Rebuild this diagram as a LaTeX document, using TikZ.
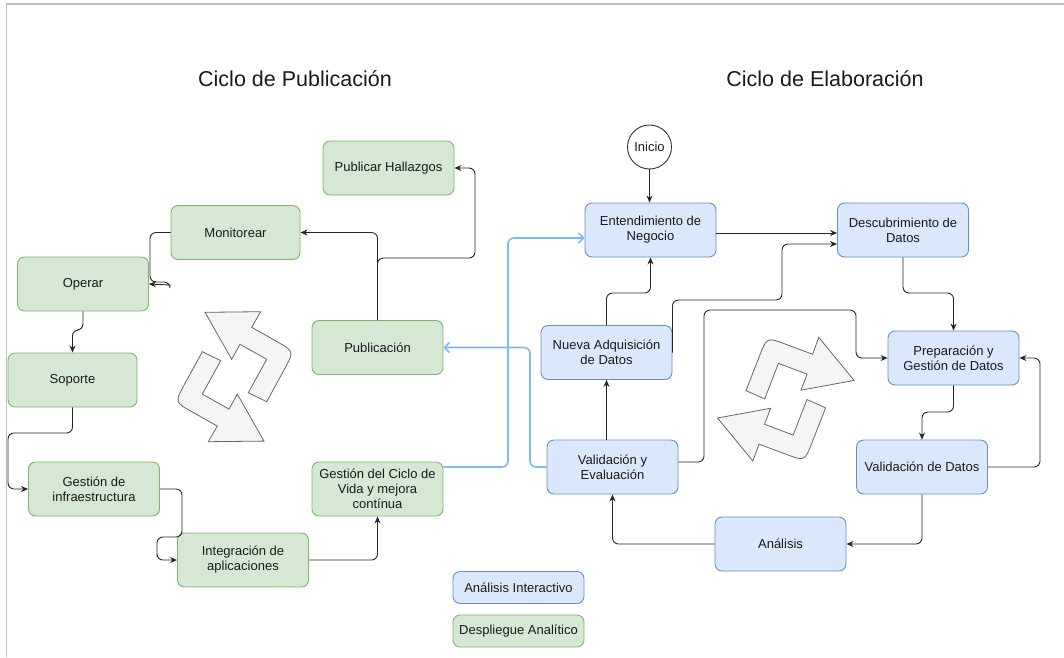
\documentclass[tikz,border=0pt]{standalone}
\usepackage{fontspec}
\setmainfont{Liberation Sans}
\usetikzlibrary{arrows.meta}
\definecolor{gfill}{HTML}{D5E8D4}
\definecolor{gdraw}{HTML}{82B366}
\definecolor{bfill}{HTML}{DAE8FC}
\definecolor{bdraw}{HTML}{6C8EBF}
\definecolor{afill}{HTML}{F5F5F5}
\definecolor{adraw}{HTML}{666666}
\definecolor{lblue}{HTML}{7EB8F7}
\definecolor{txt}{HTML}{1A1A1A}
\definecolor{framec}{HTML}{BDBDBD}
\newcommand\mybentarrow{%
  \draw[garrow] (-29.5,-64.4) -- (26.2,-65) -- (17.2,-49.4) -- (42.3,-35.2)
    .. controls (59.7,-25.4) .. (50.1,-7.8) -- (32.2,25) -- (13.8,16)
    -- (32.2,-17.4) -- (5.5,-32.4) -- (-2.8,-17.4) -- cycle;}
\tikzset{
  box/.style={rectangle, rounded corners=7pt, line width=0.9pt,
    minimum width=131pt, minimum height=54pt, inner sep=2pt, align=center,
    font=\fontsize{13}{15}\selectfont, text=txt},
  gbox/.style={box, fill=gfill, draw=gdraw},
  bbox/.style={box, fill=bfill, draw=bdraw},
  legbox/.style={minimum height=32pt},
  conn/.style={draw=black!85, line width=0.9pt, rounded corners=6pt,
    -{Stealth[length=7pt,width=6pt]}},
  bconn/.style={draw=lblue, line width=1.6pt, rounded corners=6pt,
    -{Straight Barb[length=5pt,width=10pt]}},
  garrow/.style={fill=afill, draw=adraw, line width=0.8pt, line join=miter},
  title/.style={font=\fontsize{21.5}{25}\selectfont, text=txt}
}
\begin{document}
\begin{tikzpicture}[x=1pt,y=-1pt]
\useasboundingbox (0,0) rectangle (1064,657);
\draw[framec, line width=1.6pt] (6.5,657) -- (6.5,4) -- (1064,4);

% titles
\node[title] (t1) at (295,79) {Ciclo de Publicación};
\node[title] (t2) at (825,79) {Ciclo de Elaboración};

% gray cycle arrows
\begin{scope}[shift={(234.5,376.7)}] \mybentarrow \end{scope}
\begin{scope}[shift={(234.5,376.7)}, rotate=180] \mybentarrow \end{scope}
\begin{scope}[shift={(785.8,399.2)}, rotate=-50, xscale=-1] \mybentarrow \end{scope}
\begin{scope}[shift={(785.8,399.2)}, rotate=130, xscale=-1] \mybentarrow \end{scope}

% green nodes
\node[gbox] (hall) at (388.5,168) {Publicar Hallazgos};
\node[gbox, minimum width=129pt] (mon) at (235.5,232.5) {Monitorear};
\node[gbox] (oper) at (83,284) {Operar};
\node[gbox, minimum width=129pt] (sop) at (72.5,380) {Soporte};
\node[gbox] (infra) at (94,489) {Gestión de\\infraestructura};
\node[gbox] (integ) at (243,560) {Integración de\\aplicaciones};
\node[gbox] (gcv) at (377.5,489) {Gestión del Ciclo de\\Vida y mejora\\contínua};
\node[gbox] (pub) at (377.5,347.5) {Publicación};
\node[bbox, legbox] (leg1) at (518.5,587.5) {Análisis Interactivo};
\node[gbox, legbox] (leg2) at (518.5,631) {Despliegue Analítico};

% blue nodes
\node[circle, draw=black!80, fill=white, line width=0.9pt, minimum size=44pt,
  inner sep=0pt, font=\fontsize{13}{15}\selectfont, text=txt] (inicio) at (649.5,147) {Inicio};
\node[bbox] (ent) at (650.5,230) {Entendimiento de\\Negocio};
\node[bbox] (desc) at (903,230) {Descubrimiento de\\Datos};
\node[bbox] (nueva) at (606.5,352.5) {Nueva Adquisición\\de Datos};
\node[bbox] (prep) at (953.5,358) {Preparación y\\Gestión de Datos};
\node[bbox] (vdat) at (922,467) {Validación de Datos};
\node[bbox] (anal) at (780.5,544) {Análisis};
\node[bbox] (valev) at (612.5,467) {Validación y\\Evaluación};

% black connectors, right cycle
\draw[conn] (inicio.south) -- (inicio.south |- ent.north);
\draw[conn] ([yshift=-3pt]ent.east) -- ([yshift=-3pt]desc.west);
\draw[conn] (nueva.north) |- (630,293) -| (ent.south);
\draw[conn] (nueva.east) |- (782,300) |- ([yshift=-14pt]desc.west);
\draw[conn] (nueva.south |- valev.north) -- (nueva.south);
\draw[conn] ([yshift=5pt]valev.east) -| (704,310) -| (856,340) |- (prep.west);
\draw[conn] (desc.south) |- (930,293) -| (prep.north);
\draw[conn] (prep.south) |- (935,412) -| (vdat.north);
\draw[conn] (vdat.east) -| (1040,400) |- (prep.east);
\draw[conn] (vdat.south) |- (anal.east);
\draw[conn] (anal.west) -| (valev.south);

% blue connectors
\draw[bconn] ([yshift=22pt]gcv.east) -| (508,300) |- ([yshift=-8pt]ent.west);
\draw[bconn] (valev.west) -| (530,400) |- (pub.east);

% black connectors, left cycle
\draw[conn] (pub.north) |- (mon.east);
\draw[conn] (pub.north) -- (377.5,258) -| (475,200) |- (hall.east);
\draw[conn] (mon.west) -| (150,270) |- (170,282) [sharp corners] -- (170,285) -- (oper.east);
\draw[conn] (oper.south) -- (83,330) -| (sop.north);
\draw[conn] (sop.south) -- (72.5,433) -| (8,460) |- (infra.west);
\draw[conn] (infra.east) -| (182,537) -| (157,550) |- (integ.west);
\draw[conn] (integ.east) -| (gcv.south);
\end{tikzpicture}
\end{document}
